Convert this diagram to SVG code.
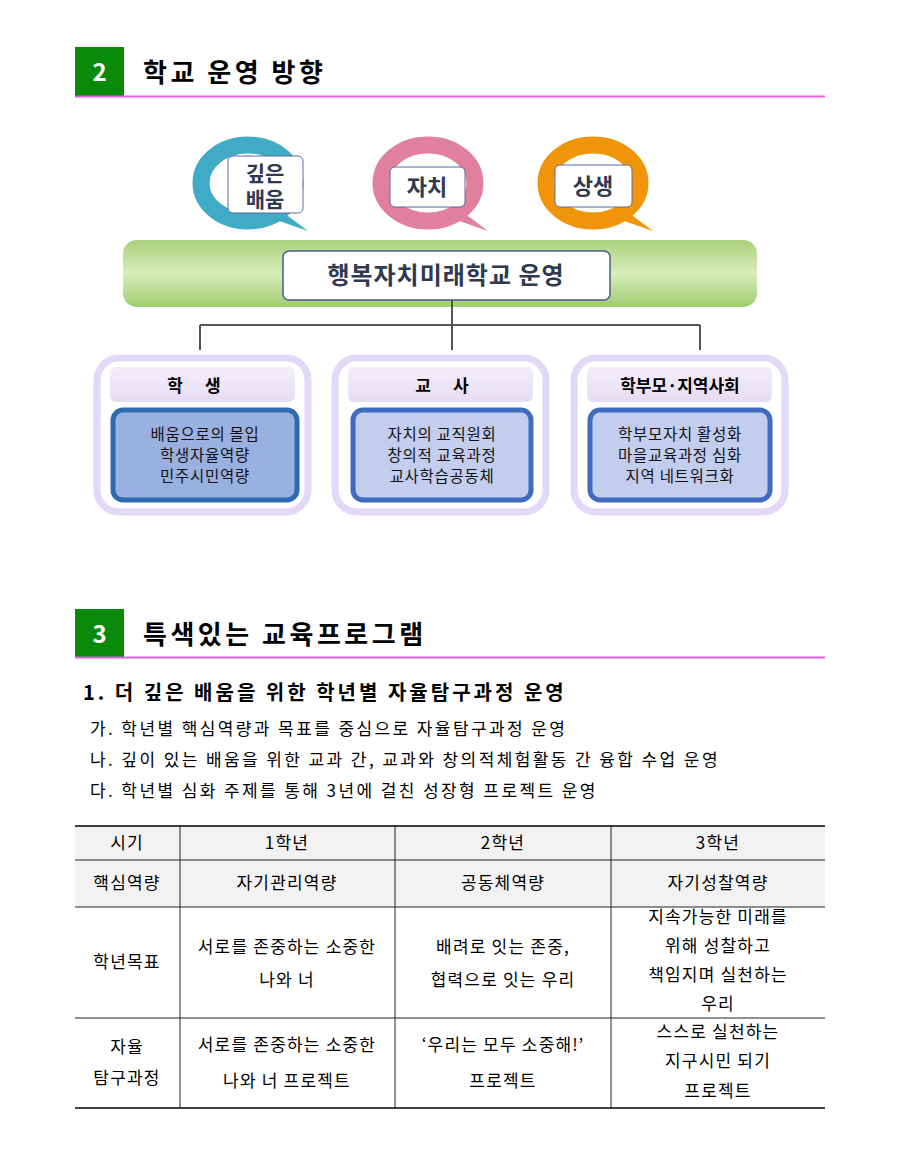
<svg xmlns="http://www.w3.org/2000/svg" width="900" height="1167" viewBox="0 0 900 1167">
<style>
text{font-family:"Noto Sans CJK KR","Noto Sans",sans-serif;fill:#000}
.h{font-size:26px;font-weight:bold;letter-spacing:3.5px}
.num{font-size:24px;fill:#fff;font-weight:bold}
.bub{font-size:22px;font-weight:bold;fill:#2f3a50;text-anchor:middle}
.card{font-size:15.5px;text-anchor:middle;fill:#111;letter-spacing:0.7px}
.ch{font-size:17px;font-weight:bold;text-anchor:middle}
.t{font-size:17px;text-anchor:middle;letter-spacing:1.2px}
.li{font-size:17px;letter-spacing:2.4px}
.ln{stroke:#555;stroke-width:2;fill:none}
.grid{stroke:#222;stroke-width:1;fill:none}
</style>
<defs>
<linearGradient id="gb" x1="0" y1="0" x2="0" y2="1"><stop offset="0" stop-color="#a9d27a"/><stop offset="0.5" stop-color="#d6eebc"/><stop offset="1" stop-color="#9fcc6e"/></linearGradient>
<linearGradient id="hs" x1="0" y1="0" x2="0" y2="1"><stop offset="0" stop-color="#f4eefb"/><stop offset="1" stop-color="#e6dcf3"/></linearGradient>
</defs>
<g id="sec2">
<rect x="75" y="47" width="49" height="49" fill="#0a8a0a"/>
<text x="99.5" y="81" class="num" text-anchor="middle">2</text>
<text x="143" y="82" class="h">학교 운영 방향</text>
<line x1="75" y1="96.5" x2="825" y2="96.5" stroke="#e060e0" stroke-width="2"/>
</g>
<g id="bubble1">
<path d="M262 215 L308 231 L280 210z" fill="#3fabc5"/>
<ellipse cx="248" cy="183" rx="47" ry="38" fill="#fff" stroke="#3fabc5" stroke-width="17"/>
<rect x="228" y="156" width="75" height="57" rx="5" fill="#fff" stroke="#5a6aa0"/>
<text x="265" y="181" class="bub" style="font-size:21px">깊은</text><text x="265" y="207" class="bub" style="font-size:21px">배움</text>
</g>
<g id="bubble2">
<path d="M442 215 L488 231 L460 210z" fill="#e0809e"/>
<ellipse cx="428" cy="183" rx="47" ry="38" fill="#fff" stroke="#e0809e" stroke-width="17"/>
<rect x="390" y="167" width="75" height="40" rx="5" fill="#fff" stroke="#5a6aa0"/>
<text x="427" y="195" class="bub">자치</text>
</g>
<g id="bubble3">
<path d="M607 215 L653 231 L625 210z" fill="#f0940a"/>
<ellipse cx="593" cy="183" rx="47" ry="38" fill="#fff" stroke="#f0940a" stroke-width="17"/>
<rect x="555" y="165" width="77" height="42" rx="5" fill="#fff" stroke="#5a6aa0"/>
<text x="593" y="194" class="bub">상생</text>
</g>
<g id="main">
<rect x="123" y="240" width="634" height="67" rx="14" fill="url(#gb)"/>
<rect x="283" y="251" width="327" height="49" rx="6" fill="#fff" stroke="#4a5a90" stroke-width="1.5"/>
<text x="446" y="284" class="bub" style="font-size:24px;letter-spacing:1px">행복자치미래학교 운영</text>
</g>
<g id="connectors">
<path class="ln" d="M452 300V325M200 325H700M200 325V350M452 325V350M700 325V350"/>
</g>
<g id="card1">
<rect x="97" y="358" width="211" height="154" rx="22" fill="#fff" stroke="#e3d8f8" stroke-width="7"/>
<rect x="110" y="367" width="185" height="35" rx="6" fill="url(#hs)"/>
<text x="205" y="392" class="ch" style="letter-spacing:22px">학생</text>
<rect x="113" y="410" width="184" height="90" rx="10" fill="#9ab0e0" stroke="#2e6aaf" stroke-width="5"/>
<text x="205" y="440" class="card">배움으로의 몰입</text><text x="205" y="461" class="card">학생자율역량</text><text x="205" y="482" class="card">민주시민역량</text>
</g>
<g id="card2">
<rect x="335" y="358" width="211" height="154" rx="22" fill="#fff" stroke="#e3d8f8" stroke-width="7"/>
<rect x="348" y="367" width="185" height="35" rx="6" fill="url(#hs)"/>
<text x="453" y="392" class="ch" style="letter-spacing:22px">교사</text>
<rect x="353" y="410" width="178" height="90" rx="10" fill="#c3cdee" stroke="#3f6cc0" stroke-width="5"/>
<text x="442" y="440" class="card">자치의 교직원회</text><text x="442" y="461" class="card">창의적 교육과정</text><text x="442" y="482" class="card">교사학습공동체</text>
</g>
<g id="card3">
<rect x="574" y="358" width="211" height="154" rx="22" fill="#fff" stroke="#e3d8f8" stroke-width="7"/>
<rect x="587" y="367" width="185" height="35" rx="6" fill="url(#hs)"/>
<text x="680" y="392" class="ch">학부모·지역사회</text>
<rect x="590" y="410" width="180" height="90" rx="10" fill="#c3cdee" stroke="#3f6cc0" stroke-width="5"/>
<text x="680" y="440" class="card">학부모자치 활성화</text><text x="680" y="461" class="card">마을교육과정 심화</text><text x="680" y="482" class="card">지역 네트워크화</text>
</g>
<g id="sec3">
<rect x="75" y="609" width="49" height="48" fill="#0a8a0a"/>
<text x="99.5" y="643" class="num" text-anchor="middle">3</text>
<text x="143" y="644" class="h">특색있는 교육프로그램</text>
<line x1="75" y1="657.5" x2="825" y2="657.5" stroke="#e060e0" stroke-width="2"/>
<text x="83" y="700" style="font-size:20px;font-weight:bold;letter-spacing:3px">1. 더 깊은 배움을 위한 학년별 자율탐구과정 운영</text>
<text x="90" y="735" class="li">가. 학년별 핵심역량과 목표를 중심으로 자율탐구과정 운영</text>
<text x="90" y="766" class="li">나. 깊이 있는 배움을 위한 교과 간, 교과와 창의적체험활동 간 융합 수업 운영</text>
<text x="90" y="797" class="li">다. 학년별 심화 주제를 통해 3년에 걸친 성장형 프로젝트 운영</text>
</g>
<g id="table">
<rect x="75" y="826" width="750" height="81" fill="#f2f2f2"/>
<path class="grid" d="M75 860H825M75 907H825M75 1018H825M180 826V1108M395 826V1108M611 826V1108"/>
<path d="M75 826H825M75 1108H825" stroke="#000" stroke-width="1.5"/>
<text x="127" y="849" class="t">시기</text><text x="287" y="849" class="t">1학년</text><text x="503" y="849" class="t">2학년</text><text x="718" y="849" class="t">3학년</text>
<text x="127" y="889" class="t">핵심역량</text><text x="287" y="889" class="t">자기관리역량</text><text x="503" y="889" class="t">공동체역량</text><text x="718" y="889" class="t">자기성찰역량</text>
<text x="127" y="968" class="t">학년목표</text>
<text x="287" y="953" class="t">서로를 존중하는 소중한</text><text x="287" y="986" class="t">나와 너</text>
<text x="503" y="953" class="t">배려로 잇는 존중,</text><text x="503" y="986" class="t">협력으로 잇는 우리</text>
<text x="718" y="923" class="t">지속가능한 미래를</text><text x="718" y="952" class="t">위해 성찰하고</text><text x="718" y="981" class="t">책임지며 실천하는</text><text x="718" y="1010" class="t">우리</text>
<text x="127" y="1053" class="t">자율</text><text x="127" y="1084" class="t">탐구과정</text>
<text x="287" y="1051" class="t">서로를 존중하는 소중한</text><text x="287" y="1087" class="t">나와 너 프로젝트</text>
<text x="503" y="1051" class="t">‘우리는 모두 소중해!’</text><text x="503" y="1087" class="t">프로젝트</text>
<text x="718" y="1038" class="t">스스로 실천하는</text><text x="718" y="1067" class="t">지구시민 되기</text><text x="718" y="1097" class="t">프로젝트</text>
</g>
</svg>
